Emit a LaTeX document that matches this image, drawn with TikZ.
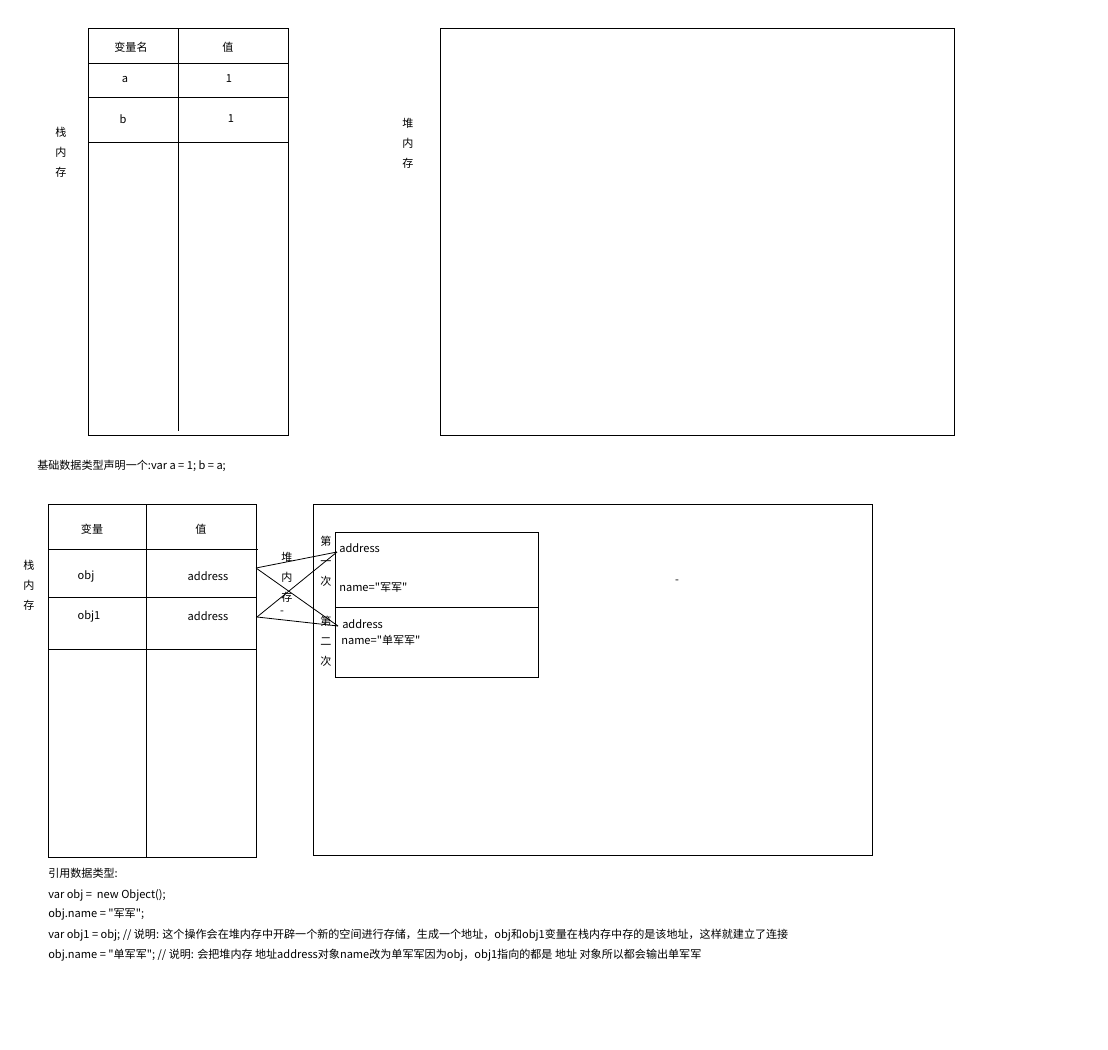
\documentclass[tikz,border=0pt]{standalone}
\usepackage{fontspec}
\setmainfont{Noto Sans CJK SC}[Ligatures=TeXOff]
\usetikzlibrary{positioning}
\tikzset{
  box/.style={draw, line width=0.75pt},
  link/.style={draw, line width=0.6pt},
  txt/.style={inner sep=0pt, font=\fontsize{8.3}{10}\selectfont},
  lbl/.style={txt, anchor=west},
  vlbl/.style={inner sep=0pt, align=center, font=\fontsize{8.3}{15}\selectfont},
}
\begin{document}
\begin{tikzpicture}[x=0.75pt,y=-0.75pt]
  \useasboundingbox (0,0) rectangle (1108,1050);
  % basic types
  \draw[box] (88,28) rectangle (288,435);
  \draw[box] (178,28) -- (178,431);
  \foreach \y in {63,97,142} \draw[box] (88,\y) -- (288,\y);
  \node[txt] (hname) at (131,47) {变量名};
  \node[txt] (hval) at (228,47) {值};
  \node[txt] (va) at (125,79) {a};
  \node[txt] (vaval) at (229,79) {1};
  \node[txt] (vb) at (123,119) {b};
  \node[txt] (vbval) at (231,119) {1};
  \node[vlbl] (stack) at (61,152) {栈\\内\\存};
  \draw[box] (440,28) rectangle (954,435);
  \node[vlbl] (heap) at (408,143) {堆\\内\\存};
  \node[lbl] (basic) at (37,466) {基础数据类型声明一个:var a = 1; b = a;};
  % reference types
  \draw[box] (48,504) rectangle (256,857);
  \draw[box] (146,504) -- (146,857);
  \draw[box] (48,549) -- (258,549);
  \foreach \y in {597,649} \draw[box] (48,\y) -- (256,\y);
  \node[txt] (rname) at (92,529) {变量};
  \node[txt] (rval) at (201,529) {值};
  \node[txt] (obj) at (86,576) {obj};
  \node[txt] (objaddr) at (208,576) {address};
  \node[txt] (objone) at (89,616) {obj1};
  \node[txt] (objoneaddr) at (208,616) {address};
  \node[vlbl] (stackb) at (29,585) {栈\\内\\存};
  \draw[box] (313,504) rectangle (872,855);
  \draw[box] (335,532) rectangle (538,677);
  \draw[box] (335,607) -- (538,607);
  \node[lbl] (addrA) at (339,548) {address};
  \node[lbl] (nameA) at (339,588) {name="军军"};
  \node[lbl] (addrB) at (342,624) {address};
  \node[lbl] (nameB) at (341,640) {name="单军军"};
  \node[vlbl] (first) at (326,561) {第\\一\\次};
  \node[vlbl] (second) at (326,641) {第\\二\\次};
  \node[vlbl] (heapb) at (287,577) {堆\\内\\存};
  \node[txt] (dotb) at (282,613) {-};
  \node[txt] (dash) at (677,582) {-};
  \coordinate (o1) at (256,568);
  \coordinate (o2) at (257,617);
  \coordinate (h1) at (337,552);
  \coordinate (h2) at (338,626);
  \draw[link] (o1) -- (h1);
  \draw[link] (o1) -- (h2);
  \draw[link] (o2) -- (h1);
  \draw[link] (o2) -- (h2);
  \node[lbl] (ref) at (48,873) {引用数据类型:};
  \node[lbl] (line1) at (48,895) {var obj =\ \ new Object();};
  \node[lbl] (line2) at (48,914) {obj.name = "军军";};
  \node[lbl] (line3) at (48,935) {var obj1 = obj; // 说明: 这个操作会在堆内存中开辟一个新的空间进行存储，生成一个地址，obj和obj1变量在栈内存中存的是该地址，这样就建立了连接};
  \node[lbl] (line4) at (48,955) {obj.name = "单军军"; // 说明: 会把堆内存 地址address对象name改为单军军因为obj，obj1指向的都是 地址 对象所以都会输出单军军};
\end{tikzpicture}
\end{document}
